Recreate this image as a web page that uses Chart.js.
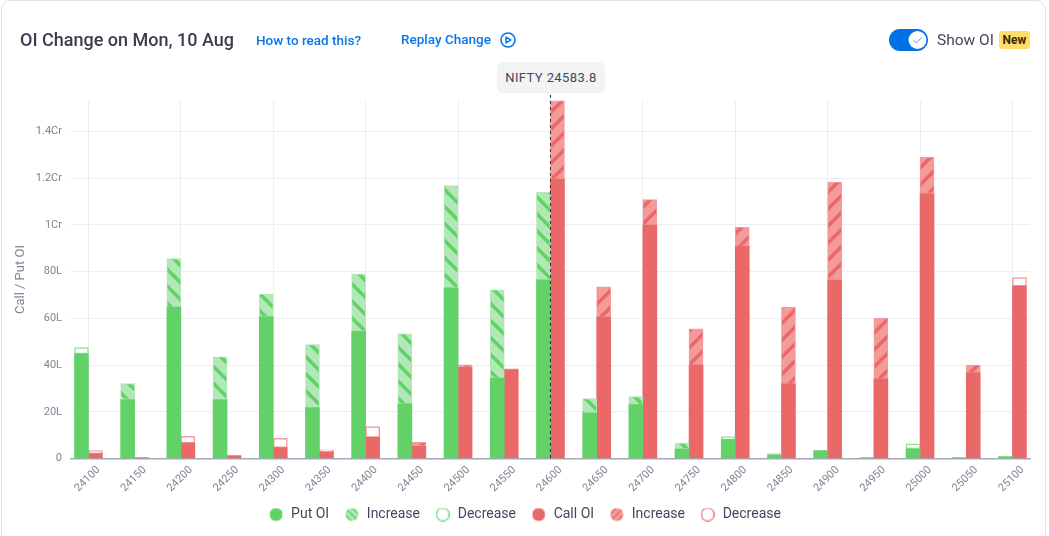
<!DOCTYPE html>
<html>
<head>
<meta charset="utf-8">
<title>OI Change</title>
<script src="https://cdn.jsdelivr.net/npm/chart.js@4"></script>
<style>
html, body { margin: 0; padding: 0; background: #fff; overflow: hidden; }
body { width: 1049px; height: 536px; position: relative; font-family: Roboto, sans-serif; color: #44475b; }
.card { position: absolute; left: 1px; top: 0; width: 1045px; height: 560px; border: 1px solid #dfe3ea; border-radius: 10px; box-sizing: border-box; }
canvas { position: absolute; left: 0; top: 0; }
.abs { position: absolute; white-space: nowrap; }
.title { left: 20px; top: 29px; font-size: 18px; font-weight: 500; line-height: 22px; color: #393d4f; }
.link { font-size: 13.5px; font-weight: 500; line-height: 16px; color: #0a75e8; }
.spot { left: 497px; top: 62px; width: 108px; height: 31px; line-height: 31px; text-align: center; background: #f3f3f4; border-radius: 6px; font-size: 13px; letter-spacing: 0.4px; }
.toggle { left: 889px; top: 29px; width: 39px; height: 22px; background: #0070e6; border-radius: 11px; }
.show { left: 937px; top: 30px; font-size: 15.5px; line-height: 20px; }
.badge { left: 999px; top: 31px; width: 31px; height: 18px; line-height: 18px; text-align: center; background: #ffdc6b; border-radius: 3px; font-size: 12px; font-weight: 700; color: #3a2a00; }
</style>
</head>
<body>
<div class="card"></div>
<canvas id="oi-chart" width="1049" height="536"></canvas>
<div class="abs title">OI Change on Mon, 10 Aug</div>
<div class="abs link" style="left:256px;top:32px">How to read this?</div>
<div class="abs link" style="left:401px;top:31px">Replay Change</div>
<svg class="abs" style="left:500px;top:32px" width="16" height="16" viewBox="0 0 16 16">
  <circle cx="8" cy="8" r="7" fill="none" stroke="#0a75e8" stroke-width="1.6"/>
  <path d="M6 5.2 L10.8 8 L6 10.8 Z" fill="none" stroke="#0a75e8" stroke-width="1.5" stroke-linejoin="round"/>
</svg>
<div class="abs spot">NIFTY 24583.8</div>
<div class="abs toggle">
  <svg width="39" height="22" viewBox="0 0 39 22">
    <circle cx="28.5" cy="11" r="9" fill="#fff"/>
    <path d="M24.5 11.2 L27.5 14 L32.5 8.5" fill="none" stroke="#5a9be8" stroke-width="1"/>
  </svg>
</div>
<div class="abs show">Show OI</div>
<div class="abs badge">New</div>

<script>
var strikes = [24100, 24150, 24200, 24250, 24300, 24350, 24400, 24450, 24500, 24550, 24600,
    24650, 24700, 24750, 24800, 24850, 24900, 24950, 25000, 25050, 25100];

// all values in lakh
var putOi = [44.8, 25.3, 64.8, 25.3, 60.8, 21.8, 54.5, 23.4, 73.1, 34.4, 76.5,
    19.6, 23.1, 4.1, 8.1, 1.6, 3.3, 0.4, 4.1, 0.4, 0.9];
var putIncrease = [null, 6.8, 20.8, 18.2, 9.6, 27, 24.4, 30, 43.7, 37.8, 37.4,
    6.1, 3.4, 2.5, null, 0.5, 0.2, null, null, null, null];
var putDecrease = [2.7, null, null, null, null, null, null, null, null, null, null,
    null, null, null, 1.3, null, null, null, 2.2, 0.1, null];

var callOi = [2.1, 0.4, 6.6, 1.3, 4.7, 2.9, 9.1, 5.3, 39, 38.1, 119.6,
    60.5, 99.9, 40, 90.8, 32, 76.4, 34.1, 113.4, 36.7, 73.8];
var callIncrease = [null, null, null, null, null, null, null, 1.7, 1.1, 0.3, 33.6,
    13, 10.9, 15.5, 8.1, 32.8, 41.9, 26, 15.5, 3.3, null];
var callDecrease = [1.3, null, 2.9, null, 4, 0.8, 4.6, null, null, null, null,
    null, null, null, null, null, null, null, null, null, 3.6];

var yTicks = [0, 20, 40, 60, 80, 100, 120, 140];
var yMax = 153.2;
var spotStrike = 24600;

var colors = {
    put: '#62d268',
    putLight: '#b2e8b5',
    putEdge: '#93e097',
    call: '#ea6868',
    callLight: '#f49a9a',
    callEdge: '#f29a9a'
};

function makeHatchCanvas(size, light, dark, forward) {
    var c = document.createElement('canvas');
    c.width = size;
    c.height = size;
    var ctx = c.getContext('2d');
    ctx.fillStyle = light;
    ctx.fillRect(0, 0, size, size);
    ctx.strokeStyle = dark;
    ctx.lineWidth = size * 0.21;
    for (var i = -1; i <= 1; ++i) {
        ctx.beginPath();
        if (forward) {
            ctx.moveTo(i * size - 1, size + 1);
            ctx.lineTo(i * size + size + 1, -1);
        } else {
            ctx.moveTo(i * size - 1, -1);
            ctx.lineTo(i * size + size + 1, size + 1);
        }
        ctx.stroke();
    }
    return c;
}

function makeLegendMarker(fill, stroke) {
    var c = document.createElement('canvas');
    c.width = 14;
    c.height = 14;
    var ctx = c.getContext('2d');
    ctx.beginPath();
    ctx.roundRect(0.75, 0.75, 12.5, 12.5, 5.5);
    ctx.fillStyle = fill;
    ctx.fill();
    if (stroke) {
        ctx.strokeStyle = stroke;
        ctx.lineWidth = 1.2;
        ctx.stroke();
    }
    return c;
}

function formatOi(v) {
    if (v === 0) {
        return '0';
    }
    return v >= 100 ? (v / 100) + 'Cr' : v + 'L';
}

var scratch = document.createElement('canvas').getContext('2d');
var putHatch = scratch.createPattern(makeHatchCanvas(17, colors.putLight, colors.put, false), 'repeat');
var callHatch = scratch.createPattern(makeHatchCanvas(17, colors.callLight, colors.call, true), 'repeat');

var markerCtx = function (light, dark, forward) {
    var c = makeHatchCanvas(7, light, dark, forward);
    return makeLegendMarker(scratch.createPattern(c, 'repeat'));
};

var legendMarkers = [
    makeLegendMarker(colors.put),
    markerCtx(colors.putLight, colors.put, false),
    makeLegendMarker('#fff', colors.put),
    makeLegendMarker(colors.call),
    markerCtx(colors.callLight, colors.call, true),
    makeLegendMarker('#fff', colors.call)
];

var spotLine = {
    id: 'spotLine',
    afterDatasetsDraw: function (chart) {
        var ctx = chart.ctx;
        var x = chart.scales.x.getPixelForValue(spotStrike);
        ctx.save();
        ctx.strokeStyle = '#2a2e45';
        ctx.lineWidth = 1;
        ctx.setLineDash([3, 3]);
        ctx.beginPath();
        ctx.moveTo(x, 95);
        ctx.lineTo(x, chart.chartArea.bottom);
        ctx.stroke();
        ctx.restore();
    }
};

var edge = { barThickness: 14, borderSkipped: false };

new Chart(document.getElementById('oi-chart'), {
    type: 'bar',
    plugins: [spotLine],
    data: {
        labels: strikes,
        datasets: [
            Object.assign({ label: 'Put OI', data: putOi, stack: 'put', backgroundColor: colors.put }, edge),
            Object.assign({ label: 'Increase', data: putIncrease, stack: 'put', backgroundColor: putHatch, borderColor: colors.putLight, borderWidth: 1 }, edge),
            Object.assign({ label: 'Decrease', data: putDecrease, stack: 'put', backgroundColor: '#fff', borderColor: colors.putEdge, borderWidth: 1.5 }, edge),
            Object.assign({ label: 'Call OI', data: callOi, stack: 'call', backgroundColor: colors.call }, edge),
            Object.assign({ label: 'Increase', data: callIncrease, stack: 'call', backgroundColor: callHatch, borderColor: colors.callLight, borderWidth: 1 }, edge),
            Object.assign({ label: 'Decrease', data: callDecrease, stack: 'call', backgroundColor: '#fff', borderColor: colors.callEdge, borderWidth: 1.5 }, edge)
        ]
    },
    options: {
        responsive: false,
        animation: false,
        devicePixelRatio: 1,
        layout: { padding: { top: 100.5, right: 0, bottom: 4.5, left: 0 } },
        scales: {
            x: {
                type: 'linear',
                stacked: true,
                offset: false,
                min: 24081.1,
                max: 25119,
                afterBuildTicks: function (scale) {
                    scale.ticks = strikes.map(function (v) { return { value: v }; });
                },
                afterFit: function (scale) { scale.height = 34.2; },
                grid: {
                    offset: false,
                    drawTicks: false,
                    color: function (ctx) {
                        return ctx.index % 2 === 0 ? '#eceef3' : 'transparent';
                    }
                },
                border: { color: '#a0a8ba', width: 1.5 },
                ticks: {
                    autoSkip: false,
                    minRotation: 45,
                    maxRotation: 45,
                    labelOffset: 10,
                    padding: 5,
                    color: '#7f8596',
                    font: { family: 'Roboto', size: 11 },
                    callback: function (v) { return String(v); }
                }
            },
            y: {
                stacked: true,
                min: 0,
                max: yMax,
                afterBuildTicks: function (scale) {
                    scale.ticks = yTicks.map(function (v) { return { value: v }; });
                },
                afterFit: function (scale) { scale.width = 71; },
                grid: { drawTicks: false, color: '#eceef3' },
                border: { display: false },
                title: {
                    display: true,
                    text: 'Call / Put OI',
                    color: '#7f8596',
                    font: { family: 'Roboto', size: 13 },
                    padding: { top: 13, bottom: 0 }
                },
                ticks: {
                    padding: 9,
                    color: '#7f8596',
                    font: { family: 'Roboto', size: 11 },
                    callback: function (v) { return formatOi(v); }
                }
            },
            // empty axis, keeps the plot clear of the right edge while the legend stays centred on the page
            rightGap: {
                position: 'right',
                afterFit: function (scale) { scale.width = 19; },
                grid: { display: false },
                border: { display: false },
                ticks: { display: false }
            }
        },
        plugins: {
            tooltip: { enabled: false },
            legend: {
                position: 'bottom',
                labels: {
                    usePointStyle: true,
                    pointStyleWidth: 16,
                    padding: 14.7,
                    color: '#44475b',
                    font: { family: 'Roboto', size: 14 },
                    generateLabels: function (chart) {
                        return chart.data.datasets.map(function (ds, i) {
                            return {
                                text: ds.label,
                                pointStyle: legendMarkers[i],
                                fontColor: '#44475b',
                                lineWidth: 0,
                                datasetIndex: i
                            };
                        });
                    }
                }
            }
        }
    }
});
</script>
</body>
</html>
